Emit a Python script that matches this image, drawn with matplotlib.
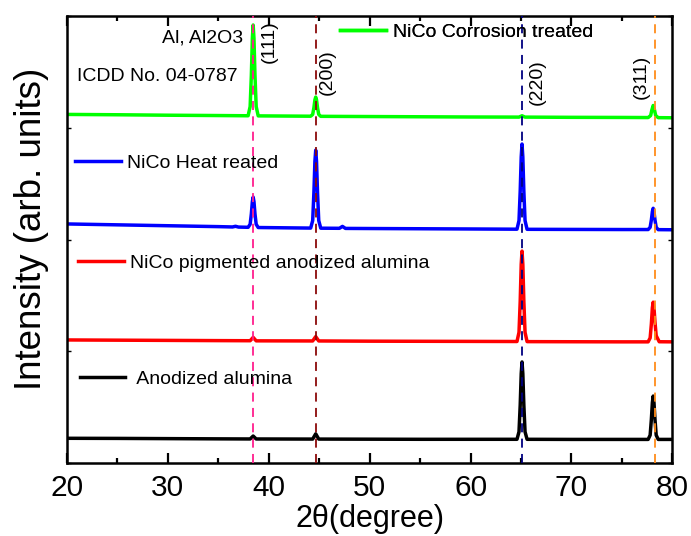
import matplotlib
matplotlib.use("Agg")
import matplotlib.pyplot as plt
from matplotlib.ticker import MultipleLocator

plt.rcParams['font.family'] = ['Liberation Sans', 'DejaVu Sans']

# ---- XRD patterns (2theta in degrees, stacked intensity in arb. units) ----
x_anodized = [20, 25, 30, 35, 38.15, 38.45, 38.75, 44.35, 44.65, 44.95, 50, 55, 60,
              64.6, 64.8, 64.92, 65.02, 65.1, 65.18, 65.28, 65.4, 65.6, 70, 75,
              77.6, 77.8, 77.92, 78.02, 78.1, 78.18, 78.28, 78.4, 78.6, 80]
y_anodized = [0.222, 0.221, 0.219, 0.217, 0.216, 0.242, 0.216, 0.215, 0.262, 0.215, 0.214, 0.213, 0.213,
              0.213, 0.28, 0.52, 0.80, 0.905, 0.80, 0.52, 0.28, 0.213, 0.212, 0.212,
              0.212, 0.25, 0.39, 0.54, 0.60, 0.54, 0.39, 0.25, 0.212, 0.212]

x_pigmented = [20, 25, 30, 35, 38.15, 38.45, 38.75, 44.35, 44.65, 44.95, 50, 55, 60,
               64.6, 64.8, 64.92, 65.02, 65.1, 65.18, 65.28, 65.4, 65.6, 70, 75,
               77.6, 77.8, 77.92, 78.02, 78.1, 78.18, 78.28, 78.4, 78.7, 80]
y_pigmented = [1.102, 1.100, 1.098, 1.096, 1.095, 1.125, 1.094, 1.093, 1.132, 1.093, 1.091, 1.090, 1.089,
               1.088, 1.17, 1.45, 1.78, 1.897, 1.78, 1.45, 1.17, 1.087, 1.086, 1.085,
               1.085, 1.12, 1.245, 1.39, 1.44, 1.39, 1.26, 1.14, 1.086, 1.085]

x_heat = [20, 25, 30, 35, 36.4, 36.7, 37.0,
          37.95, 38.15, 38.27, 38.37, 38.45, 38.53, 38.63, 38.75, 38.95,
          42, 44.15, 44.35, 44.47, 44.57, 44.65, 44.73, 44.83, 44.95, 45.15,
          47.0, 47.3, 47.6, 50, 55, 60,
          64.6, 64.8, 64.92, 65.02, 65.1, 65.18, 65.28, 65.4, 65.6, 70, 75,
          77.6, 77.8, 77.92, 78.02, 78.1, 78.18, 78.28, 78.4, 78.6, 80]
y_heat = [2.140, 2.132, 2.124, 2.116, 2.113, 2.119, 2.112,
          2.110, 2.137, 2.23, 2.34, 2.38, 2.34, 2.23, 2.137, 2.108,
          2.105, 2.103, 2.17, 2.42, 2.70, 2.80, 2.70, 2.42, 2.17, 2.102,
          2.101, 2.118, 2.100, 2.099, 2.097, 2.095,
          2.093, 2.17, 2.435, 2.74, 2.855, 2.74, 2.435, 2.17, 2.092, 2.091, 2.090,
          2.090, 2.11, 2.175, 2.25, 2.28, 2.25, 2.175, 2.11, 2.089, 2.088]

x_corrosion = [20, 25, 30, 35,
               37.95, 38.15, 38.27, 38.37, 38.45, 38.53, 38.63, 38.75, 38.95,
               44.15, 44.35, 44.47, 44.57, 44.65, 44.73, 44.83, 44.95, 45.15, 50, 55, 60,
               64.8, 65.1, 65.4, 70, 75,
               77.6, 77.85, 77.97, 78.1, 78.23, 78.35, 78.6, 80]
y_corrosion = [3.120, 3.117, 3.113, 3.110,
               3.108, 3.19, 3.47, 3.80, 3.92, 3.80, 3.47, 3.19, 3.107,
               3.104, 3.12, 3.18, 3.25, 3.275, 3.25, 3.18, 3.12, 3.103, 3.101, 3.099, 3.097,
               3.096, 3.108, 3.096, 3.094, 3.093,
               3.092, 3.11, 3.16, 3.20, 3.16, 3.11, 3.091, 3.090]

series_labels = ["Anodized alumina", "NiCo pigmented anodized alumina",
                 "NiCo Heat reated", "NiCo Corrosion treated"]
series_colors = ["#000000", "#ff0000", "#0000ff", "#00ff00"]

# ---- reflection positions (Al, ICDD No. 04-0787) ----
ref_positions = [38.45, 44.65, 65.1, 78.25]
ref_labels = ["(111)", "(200)", "(220)", "(311)"]
ref_colors = ["#ff1e8c", "#8b0a0a", "#000080", "#ff8c1a"]
ref_label_x = [40.0, 45.8, 66.6, 76.9]
ref_label_y = [3.77, 3.50, 3.41, 3.46]

fig = plt.figure(figsize=(6.91, 5.36), dpi=100)
ax = fig.add_axes([0.097, 0.136, 0.876, 0.834])

for xr, col in zip(ref_positions, ref_colors):
    ax.axvline(xr, color=col, lw=1.3, ls=(0, (5, 3.5)), zorder=3)

xs = [x_anodized, x_pigmented, x_heat, x_corrosion]
ys = [y_anodized, y_pigmented, y_heat, y_corrosion]
lines = []
for x, y, col, lab in zip(xs, ys, series_colors, series_labels):
    ln, = ax.plot(x, y, color=col, lw=2.5, label=lab, zorder=2,
                  solid_joinstyle='round')
    lines.append(ln)

for xr, yr, lab in zip(ref_label_x, ref_label_y, ref_labels):
    ax.text(xr, yr, lab, rotation=90, ha='center', va='center', fontsize=14)

ax.text(37.5, 3.80, "Al, Al2O3", ha='right', va='center', fontsize=14)
ax.text(21.0, 3.455, "ICDD No. 04-0787", ha='left', va='center', fontsize=14)

# one legend entry next to each pattern
legend_anchor = [(0.021, 0.188), (0.018, 0.447), (0.013, 0.671), (0.451, 0.964)]
legend_text = [" Anodized alumina", series_labels[1], series_labels[2], series_labels[3]]
for ln, anchor, txt in zip(lines, legend_anchor, legend_text):
    leg = ax.legend([ln], [txt], loc='center left', bbox_to_anchor=anchor,
                    frameon=False, fontsize=14, handlelength=2.35,
                    handletextpad=0.35, borderpad=0, borderaxespad=0)
    ax.add_artist(leg)

ax.set_xlim(20, 80)
ax.set_ylim(0, 4)
ax.xaxis.set_major_locator(MultipleLocator(10))
ax.xaxis.set_minor_locator(MultipleLocator(5))
ax.yaxis.set_major_locator(MultipleLocator(1))
ax.tick_params(axis='both', which='both', direction='in', top=True, right=True)
ax.tick_params(axis='x', which='major', length=7, width=1.6, labelsize=21.5, pad=8)
ax.tick_params(axis='x', which='minor', length=3.5, width=1.6)
ax.tick_params(axis='y', which='major', length=3, width=1.0, labelleft=False)
for sp in ax.spines.values():
    sp.set_linewidth(1.8)

ax.set_xlabel("2θ(degree)", fontsize=22, labelpad=1)
ax.set_ylabel("Intensity (arb. units)", fontsize=26.5)
ax.yaxis.set_label_coords(-0.03, 0.525)

fig.savefig("out.png", dpi=100)
